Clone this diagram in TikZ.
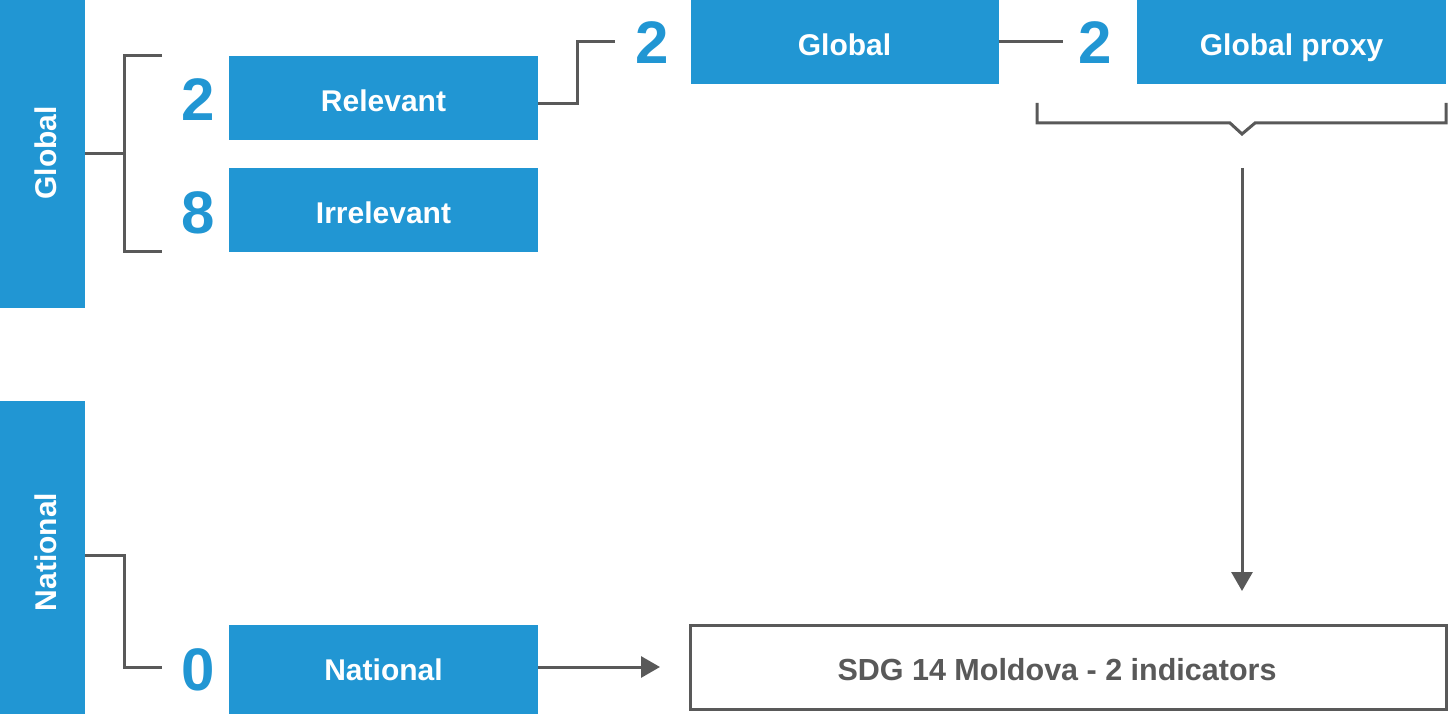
\documentclass[tikz,border=0pt]{standalone}
\usepackage{fontspec}
\setmainfont{Liberation Sans}
\usetikzlibrary{arrows.meta}
\definecolor{sdgblue}{RGB}{33,150,211}
\definecolor{lgrey}{RGB}{89,89,89}
\begin{document}
\begin{tikzpicture}[x=1pt,y=-1pt,
  bluebox/.style={fill=sdgblue,draw=none,inner sep=0pt,outer sep=0pt,text=white,
    font=\fontsize{30}{36}\selectfont\bfseries,text height=27.5pt,text depth=0pt},
  vlabel/.style={rotate=90,inner sep=0pt,text=white,
    font=\fontsize{30}{36}\selectfont\bfseries,text height=27pt,text depth=0pt},
  numtext/.style={inner sep=0pt,text=sdgblue,font=\fontsize{60}{72}\selectfont\bfseries,
    text height=43pt,text depth=0pt},
  conn/.style={draw=lgrey,line width=3pt},
  arr/.style={conn,-{Triangle[length=19pt,width=21pt]}},
]
\useasboundingbox (0,0) rectangle (1449,714);

% side bars
\node[bluebox,minimum width=85pt,minimum height=308pt] (gbar) at (42.5,154) {};
\node[vlabel] (gtext) at (42.5,153) {Global};
\node[bluebox,minimum width=85pt,minimum height=313pt] (nbar) at (42.5,557.5) {};
\node[vlabel] (ntext) at (42.5,552) {National};

% boxes
\node[bluebox,minimum width=309pt,minimum height=84pt] (rel) at (383.5,98) {Relevant};
\node[bluebox,minimum width=309pt,minimum height=84pt] (irr) at (383.5,210) {Irrelevant};
\node[bluebox,minimum width=308pt,minimum height=84pt] (glob) at (844.5,42) {Global};
\node[bluebox,minimum width=309pt,minimum height=84pt] (proxy) at (1291.5,42) {Global proxy};
\node[bluebox,minimum width=309pt,minimum height=89pt,text height=22pt] (nat) at (383.5,669.5) {National};
\node[draw=lgrey,line width=3pt,fill=white,inner sep=0pt,minimum width=756pt,minimum height=84pt,
  text=lgrey,font=\fontsize{30.5}{36}\selectfont\bfseries,text height=27.5pt,text depth=0pt]
  (sdg) at (1068,667) {\hspace*{-22pt}SDG 14 Moldova - 2 indicators};

% numbers
\node[numtext] (n2r) at (198,99) {2};
\node[numtext] (n8) at (198,212) {8};
\node[numtext] (n2g) at (652,42) {2};
\node[numtext] (n2p) at (1095,42) {2};
\node[numtext] (n0) at (198,669) {0};

% coordinates
\coordinate (bj) at (124,154);
\coordinate (bt) at (162,56);
\coordinate (bb) at (162,252);
\coordinate (g2l) at (615,42);
\coordinate (p2l) at (1063,42);
\coordinate (n0l) at (162,667);
\coordinate (narr) at (660,667);
\coordinate (dstart) at (1242,168);
\coordinate (dend) at (1242,591);

% global bracket
\draw[conn] (gbar.east |- bj) -- (bj);
\draw[conn] (bt) -- (bt -| bj) -- (bb -| bj) -- (bb);

% relevant -> global
\draw[conn] ([yshift=-6pt]rel.east) -- ++(39,0) |- (g2l);
% global -> proxy
\draw[conn] (glob.east) -- (p2l);

% proxy bracket
\draw[conn] (1037,103) -- (1037,123) -- (1230,123) -- (1242,134) -- (1255,123) -- (1446,123) -- (1446,103);

% down arrow
\draw[arr] (dstart) -- (dend);

% national connectors
\draw[conn] ([yshift=2.5pt]nbar.east) -| (124,667) -- (n0l);
\draw[arr] ([yshift=2.5pt]nat.east) -- (narr);
\end{tikzpicture}
\end{document}
